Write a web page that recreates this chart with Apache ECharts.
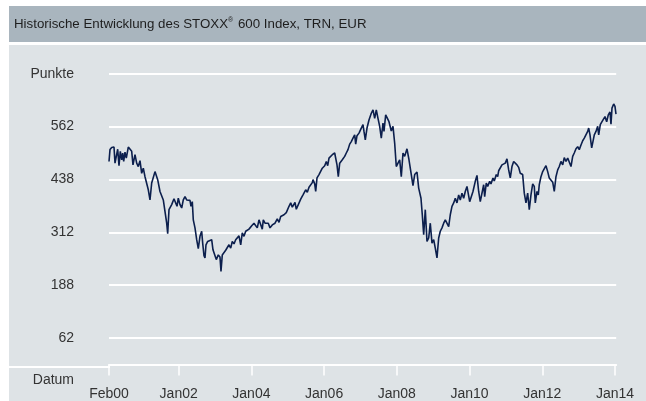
<!DOCTYPE html>
<html><head><meta charset="utf-8">
<script src="https://cdn.jsdelivr.net/npm/echarts@6/dist/echarts.min.js"></script>
<style>html,body{margin:0;padding:0;background:#fff}#c{width:646px;height:401px}</style>
</head><body><div id="c"></div>
<script>
const titleBefore = 'Historische Entwicklung des STOXX';
const titleMark = '®';
const titleAfter = ' 600 Index, TRN, EUR';
const yAxisName = 'Punkte';
const xAxisName = 'Datum';
const yTickValues = [62.5, 187.5, 312.5, 437.5, 562.5];
const yTickLabels = ['62', '188', '312', '438', '562'];
const yTop = 687.5;
const yBottom = -6;
// x values: months elapsed since February 2000
const xTickMonths = [0, 23, 47, 71, 95, 119, 143, 167];
const xTickLabels = ['Feb00', 'Jan02', 'Jan04', 'Jan06', 'Jan08', 'Jan10', 'Jan12', 'Jan14'];
const xEnd = 167.4;
// [months since Feb 2000, index points]
const stoxxTRN = [
[0,480],[0.33,508],[0.89,513],[1.65,514],[1.98,476],[2.54,477],[2.87,509],[3.30,470],[3.73,504],[4.19,484],
[4.52,500],[4.85,480],[5.28,502],[5.71,488],[6.37,514],[7.03,517],[7.49,504],[7.92,472],[8.58,496],[9.14,476],
[9.67,468],[10.23,482],[10.79,452],[11.32,464],[11.88,444],[12.44,441],[12.97,413],[13.53,389],[14.09,429],[15.18,456],
[16.07,437],[16.83,409],[17.39,413],[17.92,389],[18.48,385],[19.04,334],[19.37,309],[19.80,366],[20.69,378],[21.45,392],
[22.01,389],[22.44,374],[22.87,393],[23.43,378],[23.99,370],[24.52,389],[25.08,397],[25.64,389],[26.17,385],[26.73,388],
[27.06,374],[27.49,385],[27.82,342],[28.38,323],[28.94,295],[29.47,274],[30.03,303],[30.59,315],[30.92,287],[31.35,257],
[31.68,252],[32.01,283],[32.57,291],[33.00,295],
[33.89,295],[34.32,271],[34.98,270],[35.41,248],[36.07,259],[36.63,254],[36.96,220],[37.39,259],[37.95,263],[38.51,270],
[39.04,267],[39.60,283],[40.17,275],[40.69,291],[41.25,285],[41.81,295],[42.34,291],[42.90,304],[43.47,283],[43.99,311],
[44.55,303],[45.12,315],[45.64,311],[46.20,320],[47.10,328],[47.85,334],[48.42,338],[48.94,323],[49.50,342],[50.07,340],
[50.59,320],[50.92,342],[51.49,334],[52.05,338],[52.57,334],[53.14,323],[53.89,330],[54.79,334],[55.54,344],[56.11,336],
[56.67,350],[57.76,354],[58.51,359],[59.41,374],[59.97,382],[60.50,372],[61.39,383],[61.82,367],[62.48,364],[63.27,391],
[64.03,401],[64.92,413],[65.45,407],[66.01,419],[66.57,415],[67.10,430],
[67.33,437],[67.89,427],[68.22,409],[68.65,441],[69.31,449],[69.74,452],[70.40,464],[71.19,470],[71.72,480],[72.18,470],
[72.61,488],[73.04,484],[73.70,496],[74.49,500],[74.82,504],[75.25,472],[75.68,444],[76.14,476],[77.00,484],[77.79,492],
[78.32,500],[78.88,508],[79.44,521],[79.97,527],[80.53,535],[81.09,543],[81.42,521],[81.85,541],[82.51,547],[83.27,559],
[83.83,567],[84.16,551],[84.59,531],[85.15,559],[85.81,578],[86.57,594],[87.13,602],[87.69,582],[88.22,602],[88.78,582],
[89.34,563],[89.87,535],[90.43,571],[90.76,551],[91.32,590],[91.75,594],[92.41,574],[93.17,552],[93.73,563],[94.29,523],
[94.82,468],[95.38,476],[95.94,484],[96.47,444],[97.03,500],[97.59,492],[98.35,510],[99.01,484],[99.77,449],[100.33,423],
[100.89,449],[101.65,455],
[102.21,417],[102.97,393],[103.40,354],[103.86,307],[104.39,366],[104.95,291],[105.51,299],[106.04,334],[106.60,287],[107.16,295],
[107.69,275],[108.25,252],[108.81,299],[109.34,315],[109.90,323],[110.46,334],[110.99,342],[111.55,346],[112.11,326],[112.64,354],
[113.20,374],[113.76,382],[114.29,393],[114.85,382],[115.41,401],[115.94,389],[116.50,405],[117.06,393],[117.59,409],[118.15,421],
[118.71,417],[119.04,385],[119.47,389],[120.13,409],[120.89,433],[121.45,447],[122.01,409],[122.54,385],[123.10,389],[123.66,425],
[123.99,397],[124.52,429],[124.98,421],[125.64,433],[126.07,427],[126.73,441],[127.16,434],[127.82,449],[128.28,444],[128.61,458],
[129.14,460],[129.70,472],[130.26,468],[130.79,476],[131.35,486],[131.91,460],[132.44,441],[133.00,468],[133.56,480],[134.09,482],
[134.65,472],[135.21,466],[135.74,452],
[136.53,449],[137.06,405],[137.62,382],[138.18,405],[138.71,366],[139.27,401],[139.84,427],[140.36,421],[140.69,382],[141.25,409],
[141.68,401],[142.01,425],[142.57,444],[143.14,456],[143.66,460],[144.22,470],[144.79,456],[145.31,441],[145.87,439],[146.44,431],
[146.96,409],[147.52,444],[148.09,460],[148.61,468],[149.17,480],[149.74,472],[150.26,489],[150.83,480],[151.39,488],[151.91,484],
[152.48,468],[153.04,492],[153.56,500],[154.13,510],[154.69,515],[155.21,508],[155.78,519],[156.34,529],[156.87,535],[157.43,531],
[157.99,551],[158.32,559],[158.75,543],[159.31,512],[159.74,508],[160.17,543],[160.73,551],[161.29,563],[161.62,543],[162.15,567],
[162.71,574],[163.27,578],[163.70,586],[164.26,574],[164.79,590],[165.35,597],[165.68,568],[166.01,606],[166.57,616],[167.00,610],
[167.33,592]
];

const FONT = '"Liberation Sans", Arial, sans-serif';
const yLabelValues = yTickValues.concat([yTop]);
const chart = echarts.init(document.getElementById('c'), null, {renderer: 'canvas'});
chart.setOption({
  animation: false,
  backgroundColor: '#ffffff',
  textStyle: {fontFamily: FONT},
  graphic: [
    {type: 'rect', z: -1, silent: true, shape: {x: 9, y: 6, width: 637, height: 36}, style: {fill: '#a9b5be'}},
    {type: 'rect', z: -1, silent: true, shape: {x: 9, y: 45, width: 637, height: 356}, style: {fill: '#dee3e6'}},
    {type: 'text', z: 10, style: {
      text: '{t|' + titleBefore + '}{s|' + titleMark + '}{t|' + titleAfter + '}',
      x: 14, y: 24, verticalAlign: 'middle',
      rich: {
        t: {fill: '#1e1e1e', fontSize: 13.3, fontFamily: FONT, lineHeight: 16, verticalAlign: 'middle'},
        s: {fill: '#1e1e1e', fontSize: 7, fontFamily: FONT, lineHeight: 16, verticalAlign: 'top', padding: [1, 1, 0, 0]}
      }
    }},
    {type: 'text', z: 10, style: {text: xAxisName, x: 74, y: 380, align: 'right', verticalAlign: 'middle', fill: '#333333', font: '14px ' + FONT}},
    {type: 'line', z: 10, shape: {x1: 9, y1: 367, x2: 110, y2: 367}, style: {stroke: '#ffffff', lineWidth: 2}}
  ],
  grid: {left: 109, right: 29.8, top: 73.7, bottom: 33.8},
  xAxis: {
    type: 'value', min: 0, max: xEnd,
    axisLine: {lineStyle: {color: '#ffffff', width: 2}},
    axisTick: {customValues: xTickMonths, length: 11, lineStyle: {color: '#ffffff', width: 1.5}},
    axisLabel: {customValues: xTickMonths, formatter: v => xTickLabels[xTickMonths.indexOf(v)] || '', color: '#333333', fontSize: 14, margin: 20, fontFamily: FONT},
    splitLine: {show: false}
  },
  yAxis: {
    type: 'value', min: yBottom, max: yTop,
    axisLine: {show: false},
    axisTick: {show: false, customValues: yLabelValues},
    axisLabel: {customValues: yLabelValues, formatter: v => v === yTop ? yAxisName : (yTickLabels[yTickValues.indexOf(v)] || ''), color: '#333333', fontSize: 14, margin: 35, fontFamily: FONT},
    splitLine: {show: true, lineStyle: {color: '#ffffff', width: 2}}
  },
  series: [{
    type: 'line', data: stoxxTRN, showSymbol: false, symbol: 'none',
    lineStyle: {color: '#0c1f4d', width: 1.6}
  }]
});
</script></body></html>
